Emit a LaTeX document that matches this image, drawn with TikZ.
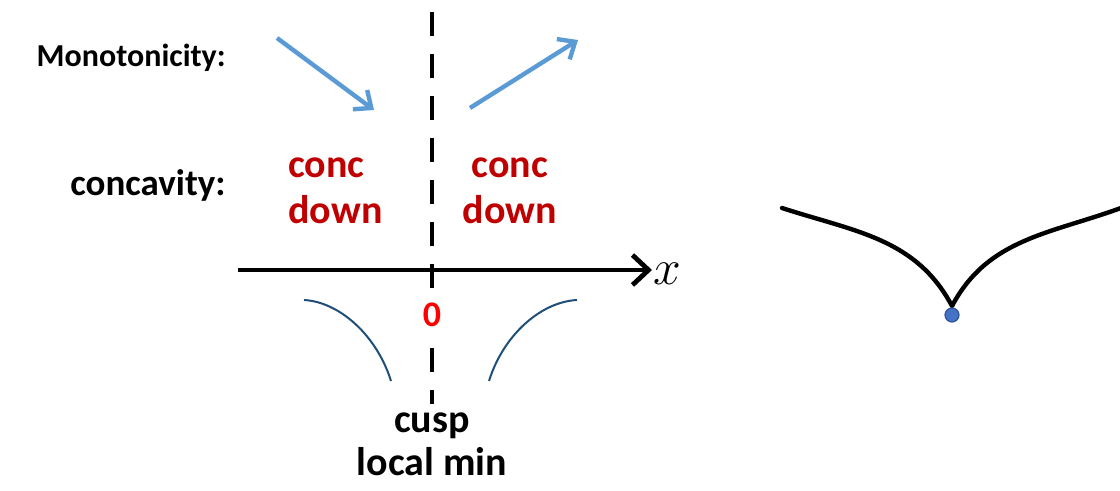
\documentclass[tikz,border=0pt]{standalone}
\usepackage{fontspec}
\setmainfont{Carlito}
\definecolor{arrowBlue}{HTML}{5B9BD5}
\definecolor{curveBlue}{HTML}{1F4E79}
\definecolor{dotBlue}{HTML}{4472C4}
\definecolor{dotEdge}{HTML}{2F5597}
\definecolor{concRed}{HTML}{C00000}
\definecolor{zeroRed}{HTML}{FF0000}
\usetikzlibrary{arrows.meta, positioning}
\tikzset{
  rowlabel/.style={font=\fontsize{16}{19}\selectfont\bfseries, anchor=east, inner sep=0pt},
  conclabel/.style={font=\fontsize{20}{23}\selectfont\bfseries, text=concRed, inner sep=0pt},
  bottomlabel/.style={font=\fontsize{20}{23}\selectfont\bfseries, inner sep=0pt},
  monoarrow/.style={draw=arrowBlue, line width=2.2pt, -{Straight Barb[length=7pt, width=12pt, line width=2.2pt]}},
  sketch/.style={draw=curveBlue, line width=1pt},
}
\begin{document}
\begin{tikzpicture}[x=0.5pt, y=-0.5pt]
  \useasboundingbox (0,0) rectangle (1120,491);

  % row labels
  \node[rowlabel] (mono) at (226,58) {Monotonicity:};
  \node[rowlabel, font=\fontsize{18.5}{21}\selectfont\bfseries] (conca) at (226,185) {concavity:};

  % monotonicity arrows
  \coordinate (decA) at (277,38);
  \coordinate (decB) at (374,110);
  \coordinate (incA) at (470,108);
  \coordinate (incB) at (578,40);
  \draw[monoarrow] (decA) -- (decB);
  \draw[monoarrow] (incA) -- (incB);

  % concavity labels
  \node[conclabel, align=left, anchor=west] (concL) at (288,191) {conc\\down};
  \node[conclabel, align=center] (concR) at (510,191) {conc\\down};

  % axis and dashed line
  \coordinate (axL) at (238,270);
  \coordinate (axR) at (652,270);
  \coordinate (dashTop) at (432,12);
  \coordinate (dashBot) at (432,404);
  \draw[line width=2.4pt, dash pattern=on 12pt off 9pt] (dashTop) -- (dashBot);
  \draw[line width=2.4pt, -{Straight Barb[length=8pt, width=15pt, line width=2.4pt]}] (axL) -- (axR);
  \node[font=\fontsize{28}{30}\selectfont, inner sep=0pt] (xlab) at (667,274) {$x$};
  \node[font=\fontsize{18}{20}\selectfont\bfseries, text=zeroRed, fill=white, inner sep=1.5pt] (zero) at (432,315) {0};

  % sketch of the graph near 0
  \coordinate (skL1) at (304,300);
  \coordinate (skL2) at (391,381);
  \coordinate (skR1) at (489,381);
  \coordinate (skR2) at (577,300);
  \draw[sketch] (skL1) .. controls (340,302) and (377,336) .. (skL2);
  \draw[sketch] (skR1) .. controls (503,336) and (540,302) .. (skR2);

  % bottom labels
  \node[bottomlabel] (cusp) at (432,426) {cusp};
  \node[bottomlabel] (lmin) [below=4pt of cusp] {local min};

  % cusp picture
  \coordinate (cuspL) at (782,208);
  \coordinate (cuspPt) at (952,306);
  \coordinate (cuspR) at (1121,208);
  \draw[line width=2.2pt, line cap=round] (cuspL) to[out=-18, in=118] (cuspPt);
  \draw[line width=2.2pt] (cuspPt) to[out=62, in=-160] (cuspR);
  \node[circle, fill=dotBlue, draw=dotEdge, line width=0.6pt, minimum size=7pt, inner sep=0pt] (dot) at (952,315) {};
\end{tikzpicture}
\end{document}
